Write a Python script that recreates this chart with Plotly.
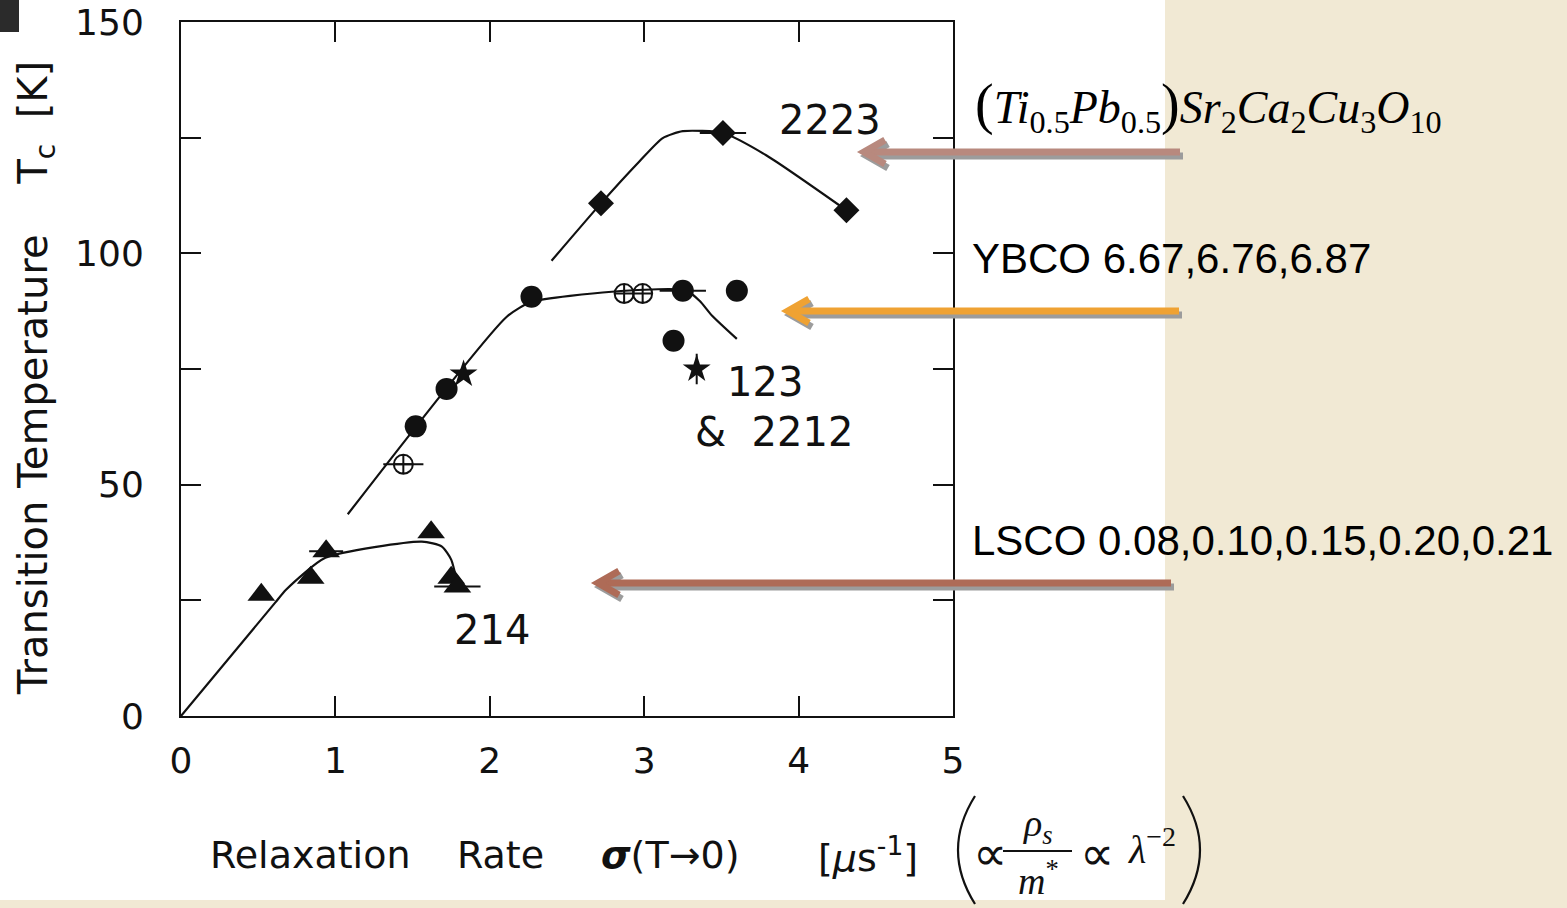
import plotly.graph_objects as go

# ---------------- data ----------------
# 214 (LSCO) triangles
lsco_x = [0.52, 0.84, 0.94, 1.62, 1.75, 1.79]
lsco_y = [26.2, 29.9, 35.6, 39.7, 29.9, 28.0]
lsco_xerr = [0, 0, 0.11, 0, 0, 0.15]
lsco_curve_x = [0.0, 0.61, 0.68, 0.935, 1.56, 1.69, 1.75, 1.78]
lsco_curve_y = [0.0, 24.5, 27.3, 34.2, 37.7, 36.6, 33.8, 30.1]

# 123 & 2212 filled circles
ybco_x = [1.52, 1.72, 2.27, 3.25, 3.60, 3.19]
ybco_y = [62.6, 70.7, 90.6, 91.9, 91.9, 81.1]
ybco_xerr = [0, 0, 0, 0.15, 0, 0]
# stars
star_x = [1.83, 3.34]
star_y = [73.9, 75.0]
star_yerr = [0, 3.3]
# open circles with cross
open_x = [1.44, 2.87, 2.99]
open_y = [54.4, 91.3, 91.3]
open_xerr = [0.13, 0, 0]
ybco_curve_x = [1.08, 2.11, 2.27, 2.79, 3.27, 3.36, 3.44, 3.60]
ybco_curve_y = [43.6, 86.3, 89.5, 91.7, 92.0, 89.7, 86.5, 81.5]

# 2223 diamonds
tl_x = [2.72, 3.51, 4.31]
tl_y = [110.8, 126.0, 109.3]
tl_xerr = [0, 0.15, 0]
tl_curve_x = [2.40, 2.72, 2.97, 3.12, 3.25, 3.51, 3.79, 4.31]
tl_curve_y = [98.4, 110.8, 119.9, 124.9, 126.4, 126.0, 121.2, 109.3]

x_ticks = [0, 1, 2, 3, 4, 5]
y_ticks = [0, 25, 50, 75, 100, 125, 150]
y_ticktext = ["0", "", "50", "", "100", "", "150"]

# ---------------- layout geometry (pixels) ----------------
W, H = 1567, 908
L, R, T, B = 181, 953, 22, 716


def px(xp):
    return (xp - L) / (R - L)


def py(yp):
    return (B - yp) / (B - T)


INK = "#111111"
SCAN = "DejaVu Sans"
SERIF = "Liberation Serif"
ARIAL = "Liberation Sans"

fig = go.Figure()

line_style = dict(color=INK, width=2.2, shape="spline", smoothing=0.6)
fig.add_trace(go.Scatter(x=lsco_curve_x, y=lsco_curve_y, mode="lines", line=line_style, hoverinfo="skip"))
fig.add_trace(go.Scatter(x=ybco_curve_x, y=ybco_curve_y, mode="lines", line=line_style, hoverinfo="skip"))
fig.add_trace(go.Scatter(x=tl_curve_x, y=tl_curve_y, mode="lines", line=line_style, hoverinfo="skip"))

err = dict(type="data", symmetric=True, color=INK, thickness=2, width=0)

fig.add_trace(go.Scatter(
    x=lsco_x, y=lsco_y, mode="markers",
    marker=dict(symbol="triangle-up", size=24, color=INK),
    error_x=dict(array=lsco_xerr, **err)))
fig.add_trace(go.Scatter(
    x=ybco_x, y=ybco_y, mode="markers",
    marker=dict(symbol="circle", size=22, color=INK),
    error_x=dict(array=ybco_xerr, **err)))
fig.add_trace(go.Scatter(
    x=star_x, y=star_y, mode="markers",
    marker=dict(symbol="star", size=21, color=INK),
    error_y=dict(array=star_yerr, **err)))
fig.add_trace(go.Scatter(
    x=open_x, y=open_y, mode="markers",
    marker=dict(symbol="circle-cross-open", size=19, color=INK, line=dict(width=2, color=INK)),
    error_x=dict(array=open_xerr, **err)))
fig.add_trace(go.Scatter(
    x=tl_x, y=tl_y, mode="markers",
    marker=dict(symbol="diamond", size=20, color=INK),
    error_x=dict(array=tl_xerr, **err)))

# ---------------- decorations ----------------
shapes = []
# white slide area
shapes.append(dict(type="rect", xref="paper", yref="paper", layer="below",
                   x0=px(0), x1=px(1165), y0=py(900), y1=py(0),
                   fillcolor="white", line=dict(width=0)))
# dark corner block
shapes.append(dict(type="rect", xref="paper", yref="paper",
                   x0=px(0), x1=px(19), y0=py(32), y1=py(0),
                   fillcolor="#2b2b2b", line=dict(width=0)))


def arrow(tip_x, tip_y, end_x, color):
    out = []
    for dx, dy, col in ((3, 4, "#9c9c9c"), (0, 0, color)):
        tx, ty = tip_x + dx, tip_y + dy
        out.append(dict(type="line", xref="paper", yref="paper",
                        x0=px(tx + 2), y0=py(ty), x1=px(end_x + dx), y1=py(ty),
                        line=dict(color=col, width=7)))
        path = "M {},{} L {},{} L {},{}".format(
            px(tx + 21), py(ty - 12), px(tx), py(ty), px(tx + 21), py(ty + 12))
        out.append(dict(type="path", xref="paper", yref="paper", path=path,
                        line=dict(color=col, width=7)))
    return out


shapes += arrow(864, 152, 1180, "#B8897E")
shapes += arrow(788, 311, 1179, "#EFA233")
shapes += arrow(598, 583, 1171, "#AE6B57")

# big parentheses of the formula
shapes.append(dict(type="path", xref="paper", yref="paper",
                   path="M {},{} Q {},{} {},{}".format(px(975), py(796), px(941), py(850), px(975), py(904)),
                   line=dict(color=INK, width=2.2)))
shapes.append(dict(type="path", xref="paper", yref="paper",
                   path="M {},{} Q {},{} {},{}".format(px(1183), py(796), px(1217), py(850), px(1183), py(904)),
                   line=dict(color=INK, width=2.2)))
# fraction bar
shapes.append(dict(type="line", xref="paper", yref="paper",
                   x0=px(1003), x1=px(1072), y0=py(851), y1=py(851),
                   line=dict(color=INK, width=2)))

annotations = []


def txt(text, x, y, size, family=SCAN, color=INK, xanchor="center", angle=0):
    annotations.append(dict(text=text, x=px(x), y=py(y), xref="paper", yref="paper",
                            showarrow=False, xanchor=xanchor, yanchor="middle",
                            textangle=angle, font=dict(family=family, size=size, color=color)))


# axis titles
txt("Transition Temperature&nbsp;&nbsp;&nbsp;&nbsp;T<sub>c</sub>&nbsp;&nbsp;[K]", 36, 378, 40, angle=-90)
txt("Relaxation", 310, 855, 38)
txt("Rate", 500, 855, 38)
txt("<b><i>σ</i></b>(T→0)", 670, 855, 38)
txt("[<i>μ</i>s<sup>-1</sup>]", 868, 855, 38)

# curve labels
txt("2223", 830, 120, 40)
txt("123", 765, 382, 40)
txt("&amp;&nbsp; 2212", 774, 432, 40)
txt("214", 492, 630, 40)

# formula pieces
txt("∝", 990, 853, 48, family=SERIF)
txt("<i>ρ</i><sub><i>s</i></sub>", 1038, 826, 38, family=SERIF)
txt("<i>m</i><sup>*</sup>", 1038, 878, 38, family=SERIF)
txt("∝", 1097, 853, 48, family=SERIF)
txt("<i>λ</i><sup>−2</sup>", 1152, 846, 40, family=SERIF)

# right-hand labels
txt("<span style='font-size:56px'>(</span><i>Ti</i><sub>0.5</sub><i>Pb</i><sub>0.5</sub>"
    "<span style='font-size:56px'>)</span><i>Sr</i><sub>2</sub><i>Ca</i><sub>2</sub>"
    "<i>Cu</i><sub>3</sub><i>O</i><sub>10</sub>", 973, 106, 46, family=SERIF, xanchor="left",
    color="black")
txt("YBCO 6.67,6.76,6.87", 970, 258, 42, family=ARIAL, xanchor="left", color="black")
txt("LSCO 0.08,0.10,0.15,0.20,0.21", 970, 540, 42, family=ARIAL, xanchor="left", color="black")

axis_common = dict(ticks="inside", ticklen=20, tickwidth=2, tickcolor=INK,
                   showline=True, linecolor=INK, linewidth=2, mirror="ticks",
                   showgrid=False, zeroline=False,
                   tickfont=dict(family=SCAN, size=36, color=INK))

fig.update_layout(
    width=W, height=H,
    margin=dict(l=L, r=W - R, t=T, b=H - B, autoexpand=False),
    paper_bgcolor="#F1E9D4",
    plot_bgcolor="white",
    showlegend=False,
    xaxis=dict(range=[0, 5], tickvals=x_ticks, ticktext=[str(v) for v in x_ticks],
               ticklabelstandoff=12, **axis_common),
    yaxis=dict(range=[0, 150], tickvals=y_ticks, ticktext=y_ticktext,
               ticklabelstandoff=28, **axis_common),
    shapes=shapes,
    annotations=annotations,
)

fig.write_html("out.html")
